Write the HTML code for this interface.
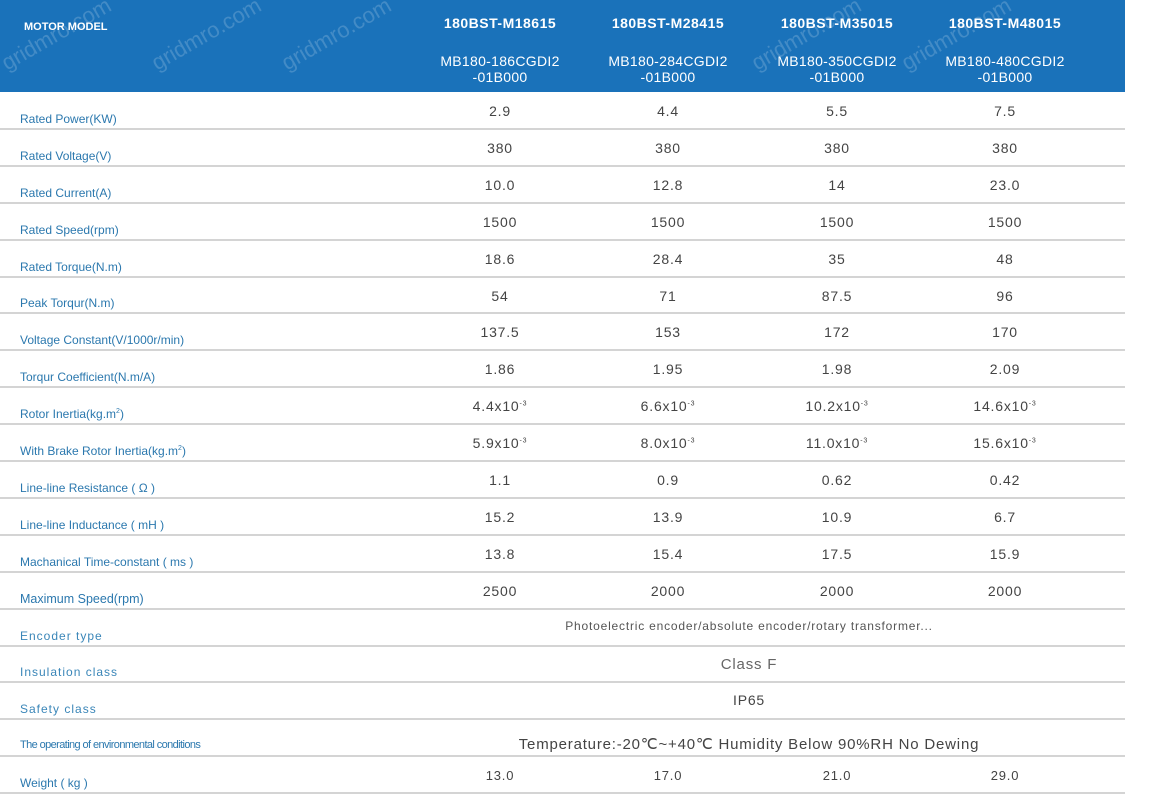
<!DOCTYPE html>
<html><head><meta charset="utf-8"><style>
body{margin:0;width:1152px;height:797px;background:#fff;position:relative;overflow:hidden;font-family:"Liberation Sans",sans-serif}
.hdr{position:absolute;left:0;top:0;width:1125px;height:92px;background:#1a72ba}
.t{position:absolute;white-space:nowrap}
.h1{color:#fff;font-weight:bold;font-size:14px;letter-spacing:0.5px;transform:translateX(-50%);top:15px}
.h2{color:#fff;font-size:14px;text-align:center;transform:translateX(-50%);top:53px;line-height:16px;letter-spacing:0.3px}
.wm{position:absolute;color:rgba(255,255,255,0.18);font-size:22px;transform:rotate(-30deg);transform-origin:left bottom}
.line{position:absolute;left:0;width:1125px;height:2px;background:#d4d4d4}
.lab{color:#2b78ae;font-size:12px;left:20px}
.v{color:#444;font-size:14px;letter-spacing:0.8px;transform:translateX(-50%)}
sup{font-size:7px}
</style></head><body>
<div class="hdr"></div>
<div class="wm" style="left:10px;top:50px">gridmro.com</div>
<div class="wm" style="left:160px;top:50px">gridmro.com</div>
<div class="wm" style="left:290px;top:50px">gridmro.com</div>
<div class="wm" style="left:760px;top:50px">gridmro.com</div>
<div class="wm" style="left:910px;top:50px">gridmro.com</div>
<div class="t" style="left:24px;top:21px;color:#fff;font-weight:bold;font-size:11px">MOTOR MODEL</div>
<div class="t h1" style="left:500px">180BST-M18615</div>
<div class="t h1" style="left:668px">180BST-M28415</div>
<div class="t h1" style="left:837px">180BST-M35015</div>
<div class="t h1" style="left:1005px">180BST-M48015</div>
<div class="t h2" style="left:500px">MB180-186CGDI2<br>-01B000</div>
<div class="t h2" style="left:668px">MB180-284CGDI2<br>-01B000</div>
<div class="t h2" style="left:837px">MB180-350CGDI2<br>-01B000</div>
<div class="t h2" style="left:1005px">MB180-480CGDI2<br>-01B000</div>
<div id="rows"></div>
<script>
const rows=[
["Rated Power(KW)","2.9","4.4","5.5","7.5"],
["Rated Voltage(V)","380","380","380","380"],
["Rated Current(A)","10.0","12.8","14","23.0"],
["Rated Speed(rpm)","1500","1500","1500","1500"],
["Rated Torque(N.m)","18.6","28.4","35","48"],
["Peak Torqur(N.m)","54","71","87.5","96"],
["Voltage Constant(V/1000r/min)","137.5","153","172","170"],
["Torqur Coefficient(N.m/A)","1.86","1.95","1.98","2.09"],
["Rotor Inertia(kg.m<sup>2</sup>)","4.4x10<sup>-3</sup>","6.6x10<sup>-3</sup>","10.2x10<sup>-3</sup>","14.6x10<sup>-3</sup>"],
["With Brake Rotor Inertia(kg.m<sup>2</sup>)","5.9x10<sup>-3</sup>","8.0x10<sup>-3</sup>","11.0x10<sup>-3</sup>","15.6x10<sup>-3</sup>"],
["Line-line Resistance ( Ω )","1.1","0.9","0.62","0.42"],
["Line-line Inductance ( mH )","15.2","13.9","10.9","6.7"],
["Machanical Time-constant ( ms )","13.8","15.4","17.5","15.9"],
["Maximum Speed(rpm)","2500","2000","2000","2000"],
["Encoder type","Photoelectric encoder/absolute encoder/rotary transformer..."],
["Insulation class","Class F"],
["Safety class","IP65"],
["The operating of environmental conditions","Temperature:-20℃~+40℃  Humidity Below 90%RH No Dewing"],
["Weight ( kg )","13.0","17.0","21.0","29.0"]];
const xs=[500,668,837,1005];let h="";
rows.forEach((r,i)=>{const top=92+i*36.9;const bot=top+36.9;
h+=`<div class="line" style="top:${Math.round(bot)-1}px"></div>`;
let ls=i==13?"font-size:12.5px;":"";if(i>=14&&i<=16)ls="font-size:12px;letter-spacing:1px;color:#3a86b8;";if(i==17)ls="font-size:11px;letter-spacing:-0.6px;";
h+=`<div class="t lab" style="top:${Math.round(bot-17)}px;${ls}">${r[0]}</div>`;
if(r.length==5){const vt=i==18?bot-25:top+11;const fs=i==18?"font-size:13px;":"";
for(let k=0;k<4;k++)h+=`<div class="t v" style="left:${xs[k]}px;top:${Math.round(vt)}px;${fs}">${r[k+1]}</div>`;}
else{const fs=i==14?"font-size:12px;color:#555":i==15?"font-size:15px;color:#666":i==16?"font-size:14px;":"font-size:15px;letter-spacing:0.8px;";
const vt=i==17?top+16:top+10;
h+=`<div class="t v" style="left:749px;top:${Math.round(vt)}px;${fs}">${r[1]}</div>`;}
});
document.getElementById("rows").innerHTML=h;
</script>
</body></html>
